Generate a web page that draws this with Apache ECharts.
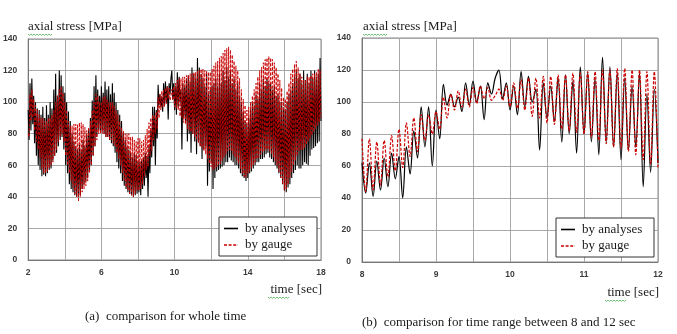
<!DOCTYPE html>
<html>
<head>
<meta charset="utf-8">
<script src="https://cdn.jsdelivr.net/npm/echarts@6/dist/echarts.min.js"></script>
<style>
  html, body { margin: 0; padding: 0; background: #fff; }
  #chart { width: 677px; height: 334px; }
</style>
</head>
<body>
<div id="chart"></div>
<script>
// All records are sampled every 0.05 s, stress in MPa.
const sampleStep = 0.05;

// 2.00-7.95 s
const earlyStart = 2;
const earlyAnalyses = [
  95, 76, 112, 82, 115, 86, 104, 74, 100, 66, 96, 60, 95, 57, 92, 53, 97, 54, 90, 53,
  98, 55, 92, 57, 100, 58, 96, 63, 108, 66, 118, 68, 104, 72, 120, 76, 117, 78, 110, 70,
  106, 60, 100, 55, 94, 48, 88, 45, 80, 43, 75, 41, 72, 40, 70, 40, 73, 41, 70, 45,
  76, 48, 72, 50, 79, 52, 83, 56, 90, 60, 101, 66, 110, 72, 117, 78, 108, 82, 104, 82,
  110, 82, 106, 80, 113, 78, 108, 78, 110, 76, 105, 74, 112, 72, 106, 68, 100, 62, 95, 58,
  92, 55, 88, 50, 80, 47, 76, 45, 72, 43, 70, 42, 68, 41, 65, 40, 68, 41, 66, 42
];
const earlyGauge = [
  80, 78, 105, 88, 108, 90, 102, 82, 98, 75, 95, 70, 92, 65, 90, 58, 90, 55, 88, 55,
  88, 56, 90, 58, 90, 60, 92, 62, 95, 66, 100, 70, 104, 75, 108, 78, 110, 80, 106, 75,
  100, 66, 95, 60, 88, 55, 85, 50, 85, 46, 86, 42, 86, 40, 86, 37, 87, 40, 87, 43,
  86, 45, 84, 47, 82, 50, 84, 55, 88, 60, 95, 66, 100, 72, 105, 76, 104, 80, 100, 80,
  100, 80, 103, 80, 104, 78, 102, 78, 100, 76, 100, 76, 100, 74, 98, 72, 95, 68, 92, 64,
  88, 60, 84, 55, 82, 50, 80, 46, 80, 44, 80, 42, 78, 41, 78, 40, 76, 42, 75, 44
];

// 8.00-12.00 s (also shown on its own in panel b)
const detailStart = 8;
const detailAnalyses = [
  62, 43, 62, 41, 63, 45, 65, 47, 68, 52,
  66, 40, 72, 55, 82, 65, 97, 72, 97, 60,
  95, 77, 111, 98, 105, 97, 103, 94, 112, 98,
  113, 100, 110, 89, 112, 105, 115, 120, 102, 112,
  95, 110, 92, 119, 97, 116, 100, 108, 70, 112,
  90, 110, 88, 115, 75, 117, 80, 113, 68, 122,
  80, 118, 75, 115, 67, 128, 75, 122, 72, 118,
  64, 115, 70, 110, 72, 118, 47, 105, 56, 108,
  62
];
const detailGauge = [
  77, 44, 77, 45, 75, 48, 76, 53, 79, 57,
  83, 59, 87, 66, 90, 69, 92, 76, 92, 80,
  94, 83, 103, 90, 105, 95, 107, 97, 108, 97,
  109, 99, 110, 102, 109, 101, 104, 108, 101, 110,
  97, 112, 96, 114, 95, 115, 91, 115, 90, 116,
  87, 116, 86, 117, 83, 117, 82, 118, 81, 118,
  80, 119, 78, 119, 76, 120, 74, 120, 72, 121,
  71, 121, 69, 120, 67, 120, 64, 119, 61, 119,
  59
];

// 12.05-18.00 s
const lateAnalyses = [
  110, 45, 112, 52, 115, 56, 110, 57, 118, 58, 112, 59, 120, 60, 114, 62, 122, 62, 116, 65,
  120, 63, 112, 62, 115, 60, 108, 60, 112, 58, 104, 55, 100, 53, 94, 52, 88, 50, 86, 52,
  90, 55, 95, 56, 100, 58, 98, 60, 105, 62, 102, 62, 112, 64, 108, 64, 115, 65, 110, 67,
  115, 68, 112, 65, 112, 64, 108, 62, 110, 60, 104, 58, 105, 55, 100, 52, 100, 48, 96, 44,
  95, 43, 100, 46, 105, 48, 108, 52, 112, 55, 116, 57, 120, 60, 115, 58, 118, 58, 112, 60,
  120, 62, 114, 61, 118, 60, 112, 66, 120, 70, 115, 71, 120, 72, 116, 74, 118, 75, 128, 88
];
const lateGauge = [
  121, 57, 123, 58, 125, 59, 126, 60, 128, 61, 129, 63, 131, 65, 133, 67, 134, 69, 135, 70,
  133, 69, 130, 67, 126, 65, 123, 63, 120, 61, 115, 58, 108, 55, 102, 53, 98, 52, 95, 55,
  97, 56, 100, 58, 104, 60, 108, 62, 112, 64, 116, 65, 120, 67, 122, 68, 125, 69, 127, 70,
  128, 70, 129, 69, 128, 67, 127, 65, 125, 63, 122, 60, 118, 56, 114, 52, 109, 48, 103, 44,
  102, 45, 107, 48, 112, 52, 118, 56, 121, 60, 124, 63, 126, 66, 122, 69, 118, 70, 116, 70,
  114, 71, 114, 73, 116, 75, 116, 77, 117, 79, 118, 81, 118, 83, 119, 85, 121, 87, 120, 90
];

// Axis ranges and tick steps
const stressRange = [0, 140];
const stressStep = 20;
const wholeRange = [2, 18];
const wholeGridStep = 2;
const wholeLabelStep = 4;
const detailRange = [8, 12];
const detailGridStep = 0.5;

const seriesNames = ['by analyses', 'by gauge'];
const texts = {
  yTitle: 'axial stress [MPa]',
  xTitle: 'time [sec]',
  captionA: '(a)  comparison for whole time',
  captionB: '(b)  comparison for time range between 8 and 12 sec'
};

const toPairs = (start, vals) =>
  vals.map((v, i) => [Math.round((start + i * sampleStep) * 1000) / 1000, v]);

const wholeAnalyses = earlyAnalyses.concat(detailAnalyses, lateAnalyses);
const wholeGauge = earlyGauge.concat(detailGauge, lateGauge);

const serif = '"Liberation Serif", "DejaVu Serif", serif';
const labelFont = { color: '#3a3a3a', fontSize: 8.5, fontWeight: 'bold', fontFamily: '"Liberation Sans", Arial, sans-serif' };
const gridLine = { show: true, lineStyle: { color: '#a8a8a8', width: 1 } };
const frameLine = { show: true, lineStyle: { color: '#777', width: 1 } };

function valueY(idx) {
  return {
    type: 'value', gridIndex: idx,
    min: stressRange[0], max: stressRange[1], interval: stressStep,
    axisLine: frameLine, axisTick: { show: false },
    axisLabel: Object.assign({ margin: 11 }, labelFont),
    splitLine: gridLine
  };
}

const blackWhole = { color: '#000', width: 1.1 };
const redWhole = { color: '#c80000', width: 0.9, type: [3, 1.6] };
const blackDetail = { color: '#000', width: 1.2 };
const redDetail = { color: '#cc0000', width: 1.2, type: [3, 1.6] };

function lineSeries(name, idx, data, style, z, smooth) {
  return {
    type: 'line', name, xAxisIndex: idx, yAxisIndex: idx, data,
    symbol: 'none', showSymbol: false, smooth: smooth || false,
    lineStyle: style, z, animation: false, clip: true
  };
}

// Wavy proofing underline drawn beneath a word
function squiggle(x0, x1, y) {
  const pts = [];
  let up = true;
  for (let x = x0; x <= x1; x += 1.5) { pts.push([x, up ? y : y + 1.4]); up = !up; }
  return { type: 'polyline', z: 100, shape: { points: pts }, style: { stroke: '#4caf50', lineWidth: 0.8, fill: null }, silent: true };
}

function text(x, y, str, align) {
  return {
    type: 'text', x, y, z: 100, silent: true,
    style: { text: str, font: '13px ' + serif, fill: '#1a1a1a', align: align || 'left', verticalAlign: 'middle' }
  };
}

function legendBox(x, y) {
  return {
    type: 'group', x, y, z: 100, silent: true,
    children: [
      { type: 'rect', z: 100, shape: { x: 0, y: 0, width: 98, height: 39 }, style: { fill: '#fff', stroke: '#333', lineWidth: 1 } },
      { type: 'line', z: 101, shape: { x1: 5, y1: 11.5, x2: 19, y2: 11.5 }, style: { stroke: '#000', lineWidth: 1.6 } },
      { type: 'line', z: 101, shape: { x1: 5, y1: 28, x2: 19, y2: 28 }, style: { stroke: '#cc0000', lineWidth: 1.4, lineDash: [3, 1.6] } },
      { type: 'text', z: 101, x: 26, y: 11.5, style: { text: seriesNames[0], font: '13px ' + serif, fill: '#1a1a1a', verticalAlign: 'middle' } },
      { type: 'text', z: 101, x: 26, y: 28, style: { text: seriesNames[1], font: '13px ' + serif, fill: '#1a1a1a', verticalAlign: 'middle' } }
    ]
  };
}

const chart = echarts.init(document.getElementById('chart'), null, { renderer: 'canvas' });

chart.setOption({
  backgroundColor: '#fff',
  animation: false,
  grid: [
    { left: 27, top: 39, width: 294, height: 221, show: true, borderColor: '#888', borderWidth: 1, containLabel: false },
    { left: 362, top: 38, width: 296, height: 224, show: true, borderColor: '#888', borderWidth: 1, containLabel: false }
  ],
  xAxis: [
    {
      type: 'value', gridIndex: 0,
      min: wholeRange[0], max: wholeRange[1], interval: wholeGridStep,
      axisLine: frameLine, axisTick: { show: false },
      axisLabel: Object.assign({
        margin: 8,
        formatter: v => ((v - wholeRange[0]) % wholeLabelStep === 0 ? String(v) : '')
      }, labelFont),
      splitLine: gridLine
    },
    {
      type: 'value', gridIndex: 1,
      min: detailRange[0], max: detailRange[1], interval: detailGridStep,
      axisLine: frameLine, axisTick: { show: false },
      axisLabel: Object.assign({
        margin: 8,
        formatter: v => (Math.abs(v - Math.round(v)) < 1e-6 ? String(Math.round(v)) : '')
      }, labelFont),
      splitLine: gridLine
    }
  ],
  yAxis: [valueY(0), valueY(1)],
  series: [
    lineSeries(seriesNames[0], 0, toPairs(earlyStart, wholeAnalyses), blackWhole, 2),
    lineSeries(seriesNames[1], 0, toPairs(earlyStart, wholeGauge), redWhole, 3),
    lineSeries(seriesNames[0], 1, toPairs(detailStart, detailAnalyses), blackDetail, 2, 0.35),
    lineSeries(seriesNames[1], 1, toPairs(detailStart, detailGauge), redDetail, 3, 0.35)
  ],
  graphic: [
    text(28, 27, texts.yTitle),
    text(363, 27, texts.yTitle),
    squiggle(28, 53, 34),
    squiggle(363, 388, 34),
    text(322, 290, texts.xTitle, 'right'),
    text(659, 293, texts.xTitle, 'right'),
    squiggle(268, 290, 297),
    squiggle(605, 627, 300),
    text(85, 317, texts.captionA),
    text(362, 323, texts.captionB),
    legendBox(219, 217),
    legendBox(556, 218)
  ]
});
</script>
</body>
</html>
